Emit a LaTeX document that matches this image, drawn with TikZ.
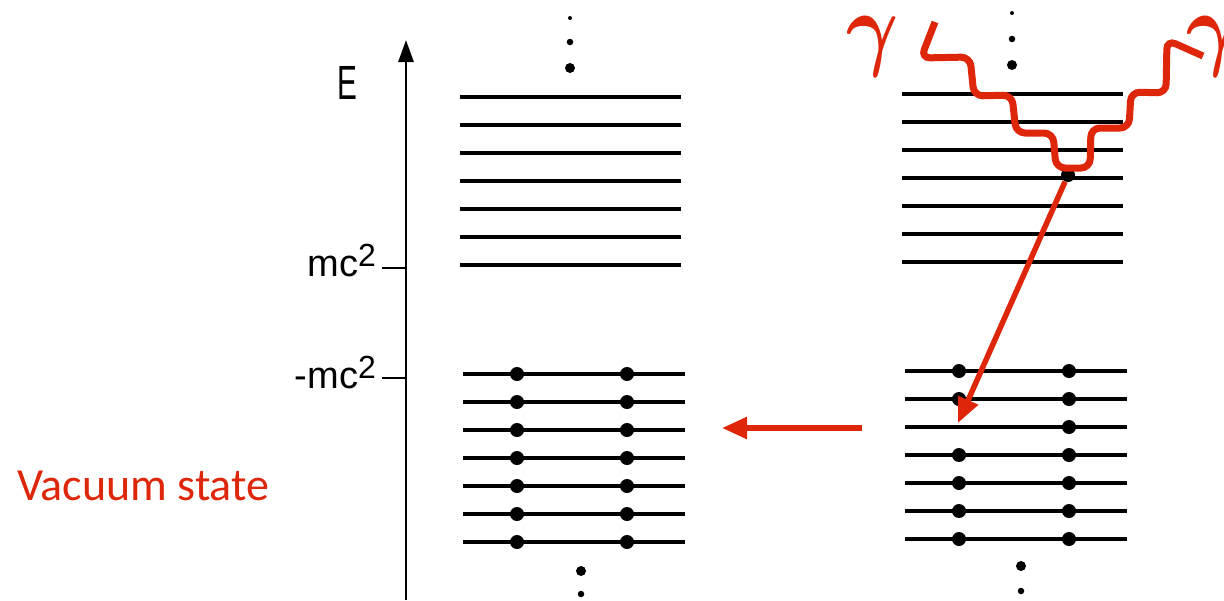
\documentclass[tikz,border=0pt]{standalone}
\usepackage{amsmath}
\usepackage{fontspec}
\usetikzlibrary{arrows.meta}
\newfontfamily\labelfont{Liberation Sans}
\newfontfamily\notefont{Carlito}
\definecolor{photonred}{RGB}{222,38,10}

\begin{document}
\begin{tikzpicture}[x=1pt, y=-1pt,
		level/.style={line width=4pt},
		electron/.style={circle, fill, inner sep=0pt, minimum size=14pt},
		dotbig/.style={circle, fill, inner sep=0pt, minimum size=10pt},
		dotmid/.style={circle, fill, inner sep=0pt, minimum size=6.5pt},
		dotsmall/.style={circle, fill, inner sep=0pt, minimum size=4pt},
		energy/.style={font=\labelfont\fontsize{38}{38}\selectfont, anchor=base east, inner sep=0pt},
		gammalabel/.style={text=photonred, inner sep=0pt},
		transition/.style={draw=photonred, line width=5.5pt, -{Triangle[length=25pt, width=21pt]}},
		photonline/.style={draw=photonred, line width=7pt, rounded corners=9pt}]

	\useasboundingbox (0,0) rectangle (1224,600);

	% ===== os energii =====
	\coordinate (axisbot) at (406,600);
	\coordinate (axistop) at (406,40);
	\draw[line width=2.8pt, -{Triangle[length=22pt, width=15pt]}] (axisbot) -- (axistop);
	\node[font=\labelfont\fontsize{48}{48}\selectfont, inner sep=0pt] (E) at (347,83) {\scalebox{0.62}[1]{E}};

	\coordinate (mcaxis) at (406,268);
	\coordinate (mctick) at (382,268);
	\draw[line width=2.8pt] (mctick) -- (mcaxis);
	\node[energy] (mc) at (376,276) {mc\raisebox{10pt}{\fontsize{32}{32}\selectfont 2}};

	\coordinate (nmcaxis) at (406,378);
	\coordinate (nmctick) at (382,378);
	\draw[line width=2.8pt] (nmctick) -- (nmcaxis);
	\node[energy] (nmc) at (376,388) {-mc\raisebox{10pt}{\fontsize{32}{32}\selectfont 2}};

	\node[font=\notefont\fontsize{46}{46}\selectfont, text=photonred, anchor=west, inner sep=0pt] (vac) at (17,486) {Vacuum state};

	% ===== proznia =====
	\begin{scope}
		\node[dotsmall] (lt1) at (570,18) {};
		\node[dotmid] (lt2) at (570,42) {};
		\node[dotbig] (lt3) at (570,68) {};
		\foreach \y in {97,125,...,265}
			\draw[level] (460,\y) -- (681,\y);
		\foreach \y [count=\i] in {374,402,...,542} {
			\draw[level] (463,\y) -- (685,\y);
			\node[electron] (la\i) at (517,\y) {};
			\node[electron] (lb\i) at (627,\y) {};
		}
		\node[dotbig] (lb1) at (581,571) {};
		\node[dotmid] (lb2) at (581,594) {};
	\end{scope}

	% ===== tworzenie pary =====
	\begin{scope}[xshift=442pt, yshift=3pt]
		\node[dotsmall] (rt1) at (570,16) {};
		\node[dotmid] (rt2) at (570,42) {};
		\node[dotbig] (rt3) at (570,68) {};
		\foreach \y in {97,125,...,265}
			\draw[level] (460,\y) -- (681,\y);
		\foreach \y [count=\i] in {374,402,...,542} {
			\draw[level] (463,\y) -- (685,\y);
			\ifnum\i=3\else\node[electron] (ra\i) at (517,\y) {};\fi
			\node[electron] (rb\i) at (627,\y) {};
		}
		\node[dotbig] (rb1) at (579,569) {};
		\node[dotmid] (rb2) at (579,594) {};
		\node[electron] (excited) at (626,178) {};
		\coordinate (hole) at (516,426);
	\end{scope}

	% ===== fotony =====
	\node[gammalabel] (g1) at (873,47) {\scalebox{8}[9.4]{$\boldsymbol{\gamma}$}};
	\node[gammalabel] (g2) at (1213,47) {\scalebox{8}[9.4]{$\boldsymbol{\gamma}$}};
	\coordinate (g1start) at (935,22);
	\coordinate (g2start) at (1203,56);
	\draw[photonline] (g1start) -- (921,58) -- (970,57) -- (974,96) -- (1012,95)
		-- (1016,133) -- (1053,133) -- (1056,168) -- (1090,168) -- (1091,128)
		-- (1129,128) -- (1131,92) -- (1166,93) -- (1167,40) -- (g2start);

	% ===== przejscia =====
	\draw[transition] (excited) -- (hole);
	\coordinate (arrfrom) at (862,428);
	\coordinate (arrto) at (722,428);
	\draw[transition] (arrfrom) -- (arrto);
\end{tikzpicture}
\end{document}
